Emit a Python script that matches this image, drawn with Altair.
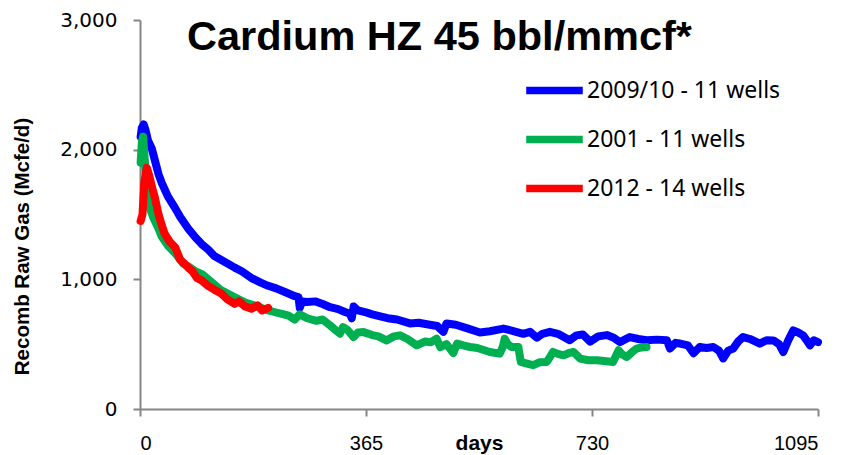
import altair as alt
import pandas as pd

series_names = ["2009/10 - 11 wells", "2001 - 11 wells", "2012 - 14 wells"]
series_colors = ["#0000FF", "#00B050", "#FF0000"]

blue_days = [1, 3, 6, 9, 13, 19, 25, 30, 35, 45, 56, 65, 78, 90, 100, 110, 120, 135, 153, 165,
             180, 195, 207, 220, 235, 250, 256, 258, 262, 270, 283, 295, 307, 320, 330, 339, 342,
             345, 352, 365, 375, 388, 400, 415, 436, 450, 468, 480, 490, 495, 510, 530, 549, 565,
             587, 600, 619, 630, 641, 650, 662, 675, 694, 705, 715, 727, 740, 754, 765, 775, 791,
             805, 818, 835, 851, 856, 865, 872, 885, 894, 904, 915, 926, 935, 942, 950, 958, 966,
             974, 985, 1001, 1012, 1023, 1032, 1039, 1047, 1055, 1063, 1071, 1078, 1082, 1088, 1095]
blue_vals = [2100, 2170, 2195, 2150, 2070, 2010, 1900, 1810, 1745, 1640, 1555, 1480, 1390, 1320,
             1270, 1230, 1180, 1140, 1090, 1060, 1010, 975, 950, 930, 900, 870, 862, 780, 830, 825,
             830, 810, 785, 770, 750, 735, 700, 790, 760, 745, 730, 714, 700, 690, 660, 665, 650,
             640, 595, 660, 650, 620, 590, 600, 620, 605, 580, 595, 550, 580, 595, 580, 530, 568,
             575, 520, 560, 570, 550, 516, 555, 540, 530, 535, 530, 466, 510, 505, 490, 430, 478,
             470, 478, 450, 390, 450, 466, 520, 555, 540, 504, 530, 529, 500, 440, 530, 606, 590,
             568, 520, 491, 530, 516]

green_days = [1, 3, 5, 8, 11, 14, 18, 22, 30, 35, 45, 57, 70, 78, 90, 100, 115, 130, 153, 170, 190,
              207, 215, 229, 240, 250, 258, 270, 285, 295, 307, 318, 323, 328, 335, 345, 352, 361,
              375, 385, 398, 410, 420, 432, 447, 460, 470, 479, 485, 495, 506, 512, 522, 533, 545,
              555, 565, 581, 586, 589, 594, 600, 611, 615, 625, 635, 645, 657, 662, 667, 675, 684,
              692, 700, 711, 724, 738, 750, 764, 773, 779, 786, 795, 802, 810, 818]
green_vals = [1900, 2060, 2100, 1900, 1700, 1580, 1520, 1470, 1390, 1330, 1260, 1200, 1120, 1100,
              1060, 1040, 980, 920, 862, 820, 790, 760, 750, 734, 720, 690, 730, 700, 680, 690, 645,
              600, 581, 632, 610, 555, 590, 593, 570, 560, 529, 560, 568, 540, 491, 520, 515, 542,
              478, 500, 432, 504, 490, 478, 470, 455, 440, 427, 480, 542, 500, 478, 478, 363, 350,
              338, 360, 363, 400, 440, 425, 414, 430, 440, 389, 376, 376, 370, 363, 453, 420, 401,
              440, 466, 475, 478]

red_days = [1, 4, 7, 11, 15, 20, 24, 30, 35, 40, 48, 57, 65, 72, 78, 85, 92, 100, 110, 120, 132,
            140, 153, 160, 170, 180, 190, 197, 207]
red_vals = [1450, 1500, 1750, 1860, 1800, 1700, 1630, 1500, 1420, 1350, 1290, 1245, 1150, 1120,
            1090, 1060, 1010, 990, 950, 920, 888, 850, 811, 830, 790, 773, 800, 760, 780]

x_ticks = [0, 365, 730, 1095]
y_ticks = [0, 1000, 2000, 3000]

rows = []
for name, days, vals in zip(series_names, [blue_days, green_days, red_days],
                            [blue_vals, green_vals, red_vals]):
    for d, v in zip(days, vals):
        rows.append({"series": name, "day": d, "value": v})
df = pd.DataFrame(rows)

chart = alt.Chart(df).mark_line(
    strokeWidth=8, strokeCap="round", strokeJoin="round"
).encode(
    x=alt.X("day:Q",
            scale=alt.Scale(domain=[0, 1095], nice=False),
            axis=alt.Axis(values=x_ticks, format="d", title="days", grid=False,
                          labelFont="Liberation Sans", labelFontSize=20, labelPadding=17,
                          labelColor="#000000",
                          titleFont="Liberation Sans", titleFontSize=21, titleFontWeight="bold",
                          titleColor="#000000", titleX=339, titleY=40,
                          titleBaseline="alphabetic", titleAlign="center")),
    y=alt.Y("value:Q",
            scale=alt.Scale(domain=[0, 3000], nice=False),
            axis=alt.Axis(values=y_ticks, format=",.0f", title="Recomb Raw Gas  (Mcfe/d)",
                          grid=False,
                          labelFont="DejaVu Sans", labelFontSize=20, labelPadding=16,
                          labelColor="#000000",
                          titleFont="Liberation Sans", titleFontSize=20.5, titleFontWeight="bold",
                          titleColor="#000000", titleX=-118, titleY=226, titleAngle=270,
                          titleBaseline="middle", titleAlign="center")),
    color=alt.Color("series:N",
                    scale=alt.Scale(domain=series_names, range=series_colors),
                    sort=series_names,
                    legend=alt.Legend(title=None, orient="none", legendX=382, legendY=58,
                                      symbolType="stroke", symbolStrokeWidth=7.5,
                                      symbolSize=3200, clipHeight=25, rowPadding=24,
                                      labelFont="Noto Sans", labelFontSize=23, labelLimit=400,
                                      labelColor="#000000", labelOffset=0, padding=0)),
).properties(
    width=678,
    height=389,
    title=alt.TitleParams("Cardium HZ 45 bbl/mmcf*", font="Liberation Sans", fontSize=41.5,
                          fontWeight="bold", color="#000000", anchor="start", dx=47,
                          dy=81, offset=0, baseline="alphabetic", frame="group"),
    autosize=alt.AutoSizeParams(type="none"),
    padding={"left": 132, "top": 12, "right": 15, "bottom": 45},
).configure_view(
    stroke=None
).configure_axis(
    domainColor="#868686", domainWidth=2, tickColor="#868686", tickWidth=2, tickSize=7
)

chart.save("out.html", embed_options={"renderer": "svg", "actions": False})
